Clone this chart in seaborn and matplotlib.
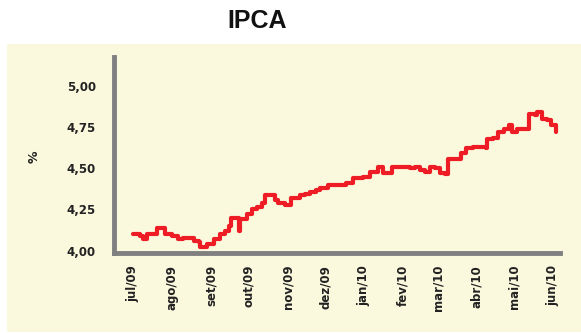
import matplotlib
matplotlib.use("Agg")
import matplotlib.pyplot as plt
import matplotlib.dates as mdates
from matplotlib.patches import Rectangle
from matplotlib.ticker import FixedLocator, FuncFormatter
import pandas as pd
import seaborn as sns

# IPCA expectations (%), sampled where the series changes level
dates = [
    "2009-07-01", "2009-07-06", "2009-07-09", "2009-07-12", "2009-07-17", "2009-07-20",
    "2009-07-24", "2009-07-26", "2009-08-01", "2009-08-06", "2009-08-10", "2009-08-15",
    "2009-08-18", "2009-08-22", "2009-08-23", "2009-08-29", "2009-09-03", "2009-09-08",
    "2009-09-12", "2009-09-15", "2009-09-17", "2009-09-20", "2009-09-23", "2009-09-24",
    "2009-09-30", "2009-10-04", "2009-10-08", "2009-10-12", "2009-10-14", "2009-10-20",
    "2009-10-22", "2009-10-24", "2009-10-30", "2009-11-04", "2009-11-11", "2009-11-15",
    "2009-11-19", "2009-11-24", "2009-11-27", "2009-12-03", "2009-12-07", "2009-12-13",
    "2009-12-18", "2009-12-23", "2009-12-31", "2010-01-06", "2010-01-12", "2010-01-16",
    "2010-01-20", "2010-01-23", "2010-02-01", "2010-02-07", "2010-02-11", "2010-02-15",
    "2010-02-19", "2010-02-23", "2010-02-27", "2010-03-03", "2010-03-07", "2010-03-09",
    "2010-03-15", "2010-03-19", "2010-03-23", "2010-03-29", "2010-04-06", "2010-04-08",
    "2010-04-09", "2010-04-14", "2010-04-18", "2010-04-23", "2010-04-27", "2010-04-29",
    "2010-05-03", "2010-05-06", "2010-05-13", "2010-05-17", "2010-05-19", "2010-05-23",
    "2010-05-27", "2010-05-30", "2010-06-01", "2010-06-03",
]
ipca = [
    4.10, 4.09, 4.07, 4.10, 4.10, 4.14,
    4.14, 4.10, 4.09, 4.07, 4.075, 4.075,
    4.06, 4.05, 4.02, 4.04, 4.07, 4.10,
    4.12, 4.15, 4.20, 4.20, 4.12, 4.195,
    4.225, 4.255, 4.265, 4.29, 4.335, 4.335,
    4.31, 4.29, 4.28, 4.32, 4.34, 4.345,
    4.355, 4.365, 4.38, 4.40, 4.40, 4.40,
    4.41, 4.44, 4.445, 4.475, 4.505, 4.47,
    4.47, 4.51, 4.51, 4.50, 4.51, 4.49,
    4.475, 4.51, 4.50, 4.47, 4.465, 4.555,
    4.555, 4.59, 4.62, 4.63, 4.63, 4.625,
    4.68, 4.685, 4.72, 4.74, 4.76, 4.72,
    4.74, 4.74, 4.83, 4.82, 4.84, 4.80,
    4.79, 4.76, 4.76, 4.72,
]
month_ticks = [
    "2009-07-01", "2009-08-01", "2009-09-01", "2009-10-01", "2009-11-01", "2009-12-01",
    "2010-01-01", "2010-02-01", "2010-03-01", "2010-04-01", "2010-05-01", "2010-06-01",
]
month_labels = ["jul/09", "ago/09", "set/09", "out/09", "nov/09", "dez/09",
                "jan/10", "fev/10", "mar/10", "abr/10", "mai/10", "jun/10"]
y_ticks = [4.00, 4.25, 4.50, 4.75, 5.00]

df = pd.DataFrame({"data": pd.to_datetime(dates), "ipca": ipca})

sns.set_theme(style="white")
plt.rcParams["font.family"] = ["DejaVu Sans"]

PANEL = "#fbf9dd"
RED = "#ee1c25"
GREY = "#808080"

fig = plt.figure(figsize=(5.81, 3.34), dpi=100, facecolor="white")
fig.patches.append(Rectangle((7 / 581, 1 - 332 / 334), 574 / 581, 288 / 334,
                             transform=fig.transFigure, facecolor=PANEL,
                             edgecolor="none", zorder=-5))

ax = fig.add_axes([114 / 581, 1 - 253 / 334, 446 / 581, 196.3 / 334])
ax.set_facecolor(PANEL)
ax.set_zorder(2)

sns.lineplot(data=df, x="data", y="ipca", ax=ax, color=RED, linewidth=3.0,
             drawstyle="steps-post")

ax.set_xlim(pd.Timestamp("2009-06-15 14:00"), pd.Timestamp("2010-06-06 08:00"))
ax.set_ylim(3.986, 5.176)

ax.xaxis.set_major_locator(FixedLocator(mdates.date2num(pd.to_datetime(month_ticks))))
ax.set_xticklabels(month_labels, rotation=90, fontsize=8.5, fontweight="bold",
                   color="#222222")
ax.set_yticks(y_ticks)
ax.yaxis.set_major_formatter(FuncFormatter(lambda v, _: f"{v:.2f}".replace(".", ",")))
for lab in ax.get_yticklabels():
    lab.set_fontsize(8.5)
    lab.set_fontweight("bold")
    lab.set_color("#222222")

ax.tick_params(axis="both", which="major", length=5, width=3.5, color=GREY)
ax.tick_params(axis="y", pad=8)
ax.tick_params(axis="x", pad=3.5)

for side in ("top", "right"):
    ax.spines[side].set_visible(False)
for side in ("left", "bottom"):
    ax.spines[side].set_color(GREY)
    ax.spines[side].set_linewidth(3.5)

ax.set_xlabel("")
ax.set_ylabel("%", fontsize=9, fontweight="bold", color="#222222")
ax.yaxis.set_label_coords(-0.165, 0.49)

fig.text(257 / 581, 1 - 21 / 334, "IPCA", ha="center", va="center", color="#111111",
         fontsize=18, fontweight="bold", family=["Liberation Sans", "DejaVu Sans"])

fig.savefig("out.png", dpi=100, facecolor="white")
